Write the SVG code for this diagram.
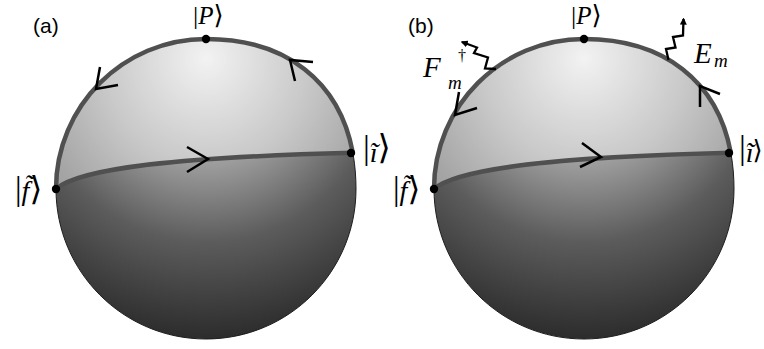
<svg xmlns="http://www.w3.org/2000/svg" width="764" height="349" viewBox="0 0 764 349">
<defs>
<radialGradient id="sph" gradientUnits="userSpaceOnUse" cx="206" cy="70" fx="206" fy="58" r="285">
<stop offset="0" stop-color="#e8e8e8"/>
<stop offset="0.36" stop-color="#9c9c9c"/>
<stop offset="0.62" stop-color="#5c5c5c"/>
<stop offset="1" stop-color="#242424"/>
</radialGradient>
<marker id="ah" viewBox="0 0 10 10" refX="8" refY="5" markerWidth="7" markerHeight="7" markerUnits="userSpaceOnUse" orient="auto">
<path d="M0 0 L10 5 L0 10 Z" fill="#000"/>
</marker>
</defs>
<style>
.sphere{fill:url(#sph);stroke:#1e1e1e;stroke-width:1}
.cap{fill:#fff;fill-opacity:0.45;stroke:none}
.thick{fill:none;stroke:#505050;stroke-width:4.5}
.arr{fill:none;stroke:#000;stroke-width:2.5;stroke-linejoin:miter}
.dot{fill:#000}
.wig{fill:none;stroke:#000;stroke-width:2.3;stroke-linejoin:miter}
.m{font-family:"Liberation Serif","DejaVu Serif",serif;fill:#000}
.it{font-style:italic}
.lab{font-family:"Liberation Sans","DejaVu Sans",sans-serif;font-size:21px;fill:#000}
.s34{font-size:34px}
.s33{font-size:33px}
.s29{font-size:29px}
.s28{font-size:28px}
.s26{font-size:26px}
.s25{font-size:25px}
.s19{font-size:19px}
.s16{font-size:16px}
</style>
<g id="sphere-a">
<path class="sphere" d="M56 189 C56 106.2 123.2 39 206 39 C299 39 356 96 356 189 C356 271.8 288.8 339 206 339 C123.2 339 56 271.8 56 189 Z"/>
<path class="cap" d="M56 189 C56 106.2 123.2 39 206 39 C286.26 39 339.7 81.45 352.84 152.86 C180 157 80 168 56 189 Z"/>
</g>
<g id="sphere-b" transform="translate(378,0)">
<path class="sphere" d="M56 189 C56 106.2 123.2 39 206 39 C299 39 356 96 356 189 C356 271.8 288.8 339 206 339 C123.2 339 56 271.8 56 189 Z"/>
<path class="cap" d="M56 189 C56 106.2 123.2 39 206 39 C286.26 39 339.7 81.45 352.84 152.86 C180 157 80 168 56 189 Z"/>
</g>
<g id="connectors">
<path class="thick" d="M56 189 C56 106.2 123.2 39 206 39 C286.26 39 339.7 81.45 352.84 152.86"/>
<path class="thick" d="M56 189 C80 168 180 157 352.84 152.86"/>
<path class="arr" d="M187 147 L208 159 L187 172"/>
<path class="arr" d="M100 67 L96 89 L118 85"/>
<path class="arr" d="M313 62 L290 60 L295 81"/>
<g transform="translate(378,0)">
<path class="thick" d="M56 189 C56 106.2 123.2 39 206 39 C286.26 39 339.7 81.45 352.84 152.86"/>
<path class="thick" d="M56 189 C80 168 180 157 352.84 152.86"/>
</g>
<path class="arr" d="M582 143 L601 157 L580 167"/>
<path class="arr" d="M459 92 L455 115 L477 108"/>
<path class="arr" d="M700 107 L700 86 L720 94"/>
<polyline class="wig" marker-end="url(#ah)" points="496,69 485,68.5 488,57.5 474,53 477,47.5 462,42"/>
<polyline class="wig" marker-end="url(#ah)" points="668.5,60 666,49 675.5,47.5 673,37 683,35.5 683.5,19"/>
</g>
<g id="dots">
<circle class="dot" cx="206" cy="39" r="4.2"/>
<circle class="dot" cx="56" cy="189" r="4.2"/>
<circle class="dot" cx="351" cy="153" r="4.2"/>
<circle class="dot" cx="584" cy="39" r="4.2"/>
<circle class="dot" cx="434" cy="189" r="4.2"/>
<circle class="dot" cx="729" cy="153" r="4.2"/>
</g>
<g id="labels">
<text class="lab" x="33" y="33">(a)</text>
<text class="lab" x="408" y="33">(b)</text>
<text class="m s26" x="193" y="24">|<tspan class="it s25">P</tspan>⟩</text>
<text class="m s26" x="571" y="24">|<tspan class="it s25">P</tspan>⟩</text>
<text class="m s34" x="363" y="159">|<tspan class="it s28" dy="3">ĩ</tspan><tspan dy="-3">⟩</tspan></text>
<text class="m s34" x="739" y="159">|<tspan class="it s28" dy="3">ĩ</tspan><tspan class="s26" dx="-1" dy="-3">⟩</tspan></text>
<text class="m s33" x="15" y="200">|<tspan class="it s28">f̃</tspan>⟩</text>
<text class="m s33" x="393" y="200">|<tspan class="it s28">f̃</tspan>⟩</text>
<text class="m it s29" x="694" y="63">E</text>
<text class="m it s19" x="714" y="67">m</text>
<text class="m it s29" x="423" y="77">F</text>
<text class="m s16" x="458" y="61">†</text>
<text class="m it s19" x="448" y="89">m</text>
</g>
</svg>
